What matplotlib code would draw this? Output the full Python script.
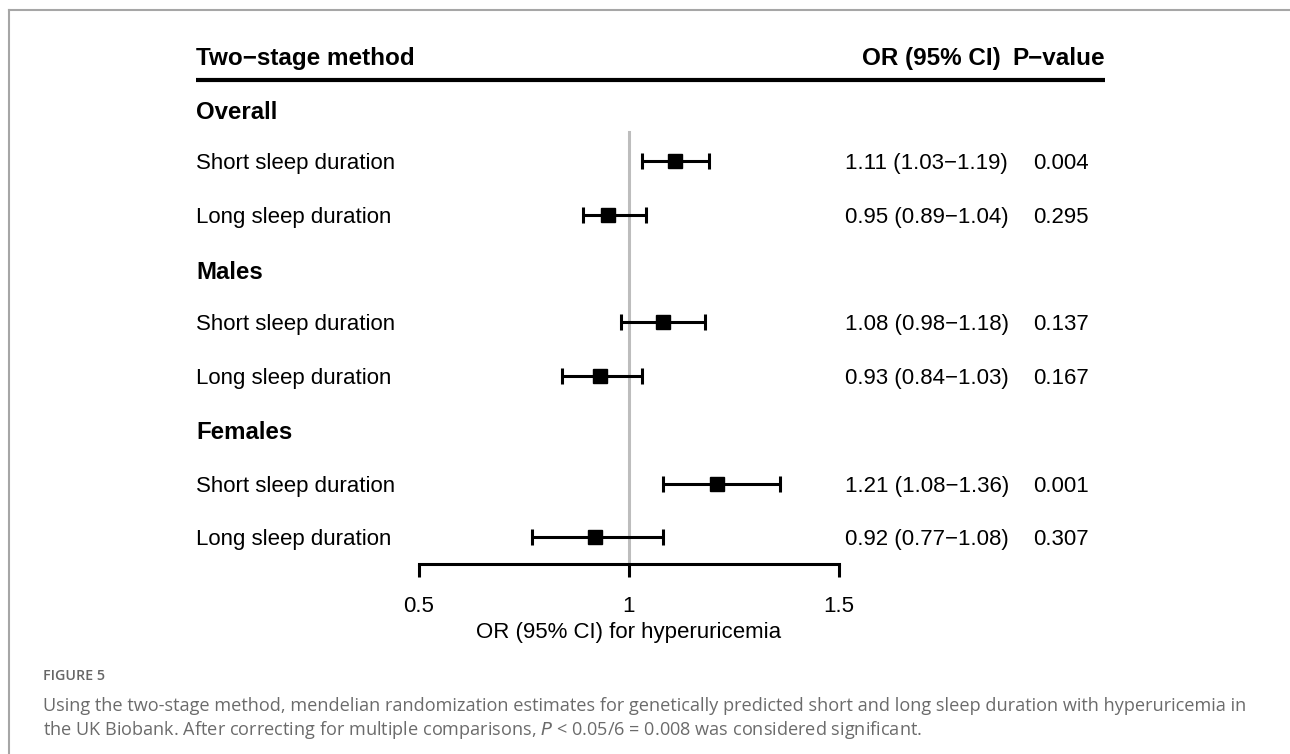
import matplotlib
matplotlib.use("Agg")
from matplotlib import pyplot as plt

# data
groups = ["Overall", "Males", "Females"]
labels = ["Short sleep duration", "Long sleep duration"] * 3
or_est = [1.11, 0.95, 1.08, 0.93, 1.21, 0.92]
ci_low = [1.03, 0.89, 0.98, 0.84, 1.08, 0.77]
ci_high = [1.19, 1.04, 1.18, 1.03, 1.36, 1.08]
ci_text = ["1.11 (1.03\u22121.19)", "0.95 (0.89\u22121.04)", "1.08 (0.98\u22121.18)",
           "0.93 (0.84\u22121.03)", "1.21 (1.08\u22121.36)", "0.92 (0.77\u22121.08)"]
p_text = ["0.004", "0.295", "0.137", "0.167", "0.001", "0.307"]
x_ticks = [0.5, 1, 1.5]
x_tick_labels = ["0.5", "1", "1.5"]

W, H = 1290, 754
FONT = ["Liberation Sans", "DejaVu Sans"]
CAP = ["Open Sans", "DejaVu Sans"]

fig = plt.figure(figsize=(W / 100, H / 100), dpi=100)

# page layer in pixel coordinates
bg = fig.add_axes([0, 0, 1, 1])
bg.set_xlim(0, W)
bg.set_ylim(H, 0)
bg.axis("off")

# card border (left + top)
bg.plot([9, 9], [H + 5, 10], color="#a6a6a6", lw=1.5)
bg.plot([9, W + 5], [10, 10], color="#a6a6a6", lw=1.5)

# header
bg.text(196, 56, "Two\u2212stage method", fontsize=17.5, fontweight="bold",
        family=FONT, va="center_baseline", ha="left")
bg.text(1001, 56, "OR (95% CI)", fontsize=17.5, fontweight="bold",
        family=FONT, va="center_baseline", ha="right")
bg.text(1105, 56, "P\u2212value", fontsize=17.5, fontweight="bold",
        family=FONT, va="center_baseline", ha="right")
bg.plot([196, 1105], [80, 80], color="black", lw=3, solid_capstyle="butt")

# row layout (pixel y)
group_y = [110, 270, 430]
row_y = [161, 215, 322, 376, 484, 537]

for g, y in zip(groups, group_y):
    bg.text(196, y, g, fontsize=17.3, fontweight="bold", family=FONT,
            va="center_baseline", ha="left")

for lab, y, ct, pt in zip(labels, row_y, ci_text, p_text):
    bg.text(196, y, lab, fontsize=16, family=FONT, va="center_baseline", ha="left")
    bg.text(845, y, ct, fontsize=16, family=FONT, va="center_baseline", ha="left")
    bg.text(1033, y, pt, fontsize=16, family=FONT, va="center_baseline", ha="left")

# forest axes: OR 0.5 -> px 419, 1.5 -> px 839
ax = fig.add_axes([419 / W, 0, 420 / W, 1])
ax.set_xlim(0.5, 1.5)
ax.set_ylim(H, 0)
ax.axis("off")

axis_y = 564
ax.plot([1, 1], [132, axis_y], color="#bdbdbd", lw=2.2, zorder=1)

xerr = [[o - l for o, l in zip(or_est, ci_low)],
        [h - o for o, h in zip(or_est, ci_high)]]
ax.errorbar(or_est, row_y, xerr=xerr, fmt="s", color="black", ms=9.5,
            elinewidth=2.2, capsize=5.5, capthick=2.2, zorder=3,
            clip_on=False)

# x axis
ax.plot([0.5, 1.5], [axis_y, axis_y], color="black", lw=2.2,
        solid_capstyle="projecting", clip_on=False)
for t, tl in zip(x_ticks, x_tick_labels):
    ax.plot([t, t], [axis_y, axis_y + 13], color="black", lw=2.2,
            solid_capstyle="butt", clip_on=False)
    ax.text(t, 604, tl, fontsize=16, family=FONT, ha="center", va="center_baseline")
ax.text(1.0, 630, "OR (95% CI) for hyperuricemia", fontsize=16,
        family=FONT, ha="center", va="center_baseline")

# caption
bg.text(43, 674, "FIGURE 5", fontsize=10.3, fontweight="semibold", family=CAP,
        color="#666666", va="center_baseline", ha="left")
bg.text(43, 704, "Using the two-stage method, mendelian randomization estimates for "
        "genetically predicted short and long sleep duration with hyperuricemia in",
        fontsize=13.1, family=CAP, color="#6b6b6b", va="center_baseline", ha="left")
bg.text(43, 727, "the UK Biobank. After correcting for multiple comparisons, $P$ < 0.05/6 = "
        "0.008 was considered significant.",
        fontsize=13.1, family=CAP, color="#6b6b6b", va="center_baseline", ha="left")

fig.savefig("out.png", dpi=100, facecolor="white")
